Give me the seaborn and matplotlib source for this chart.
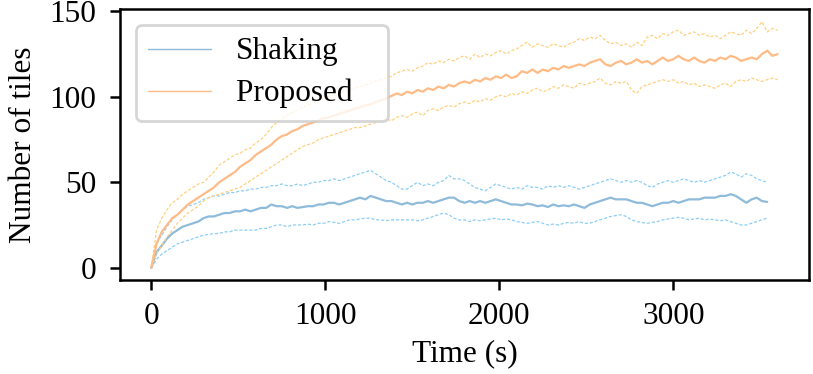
import numpy as np
import pandas as pd
import matplotlib
matplotlib.use('Agg')
import matplotlib.pyplot as plt
import seaborn as sns

# Data (number of tiles, sampled every 30 s)

shaking_mean = [
    0, 9, 13, 17, 20, 22, 24, 25, 26, 27,
    29, 30, 30, 31, 32, 32, 33, 33, 34, 33,
    34, 35, 35, 37, 36, 36, 35, 36, 35, 35.5,
    36, 36, 37, 37, 38, 38, 37, 38, 39, 40,
    41, 40, 42, 41, 40, 39, 39, 38, 37, 38,
    37, 38, 38, 39, 38, 39, 40, 41, 41, 39,
    38, 39, 38, 39, 38, 39, 40, 39, 38, 37,
    37, 36.5, 37.5, 37, 36, 36.5, 35.5, 37, 36, 36.5,
    36, 37, 36, 35, 37, 38, 39, 40, 41, 40,
    40, 40, 39, 38, 38, 37, 36, 37, 38, 38,
    39, 38, 39, 40, 40, 40, 41, 41, 41, 42,
    42, 43, 42, 40, 38, 40, 41, 39, 38.5]

shaking_upper = [
    0, 14, 19, 24, 28, 31, 34, 36, 37, 38,
    40, 41, 42, 42, 43, 44, 44, 45, 45, 46,
    46, 47, 47, 48, 48, 49, 48, 48, 49, 48,
    49, 50, 50, 51, 51, 52, 51, 52, 53, 54,
    55, 56, 57, 55, 53, 51, 50, 48, 46, 46,
    48, 50, 48, 49, 48, 50, 51, 54, 52, 52,
    51, 49, 47, 46, 45, 47, 49, 48, 47, 46,
    47, 46, 48, 47, 47, 46, 48, 47, 48, 47,
    48, 47, 46, 47, 48, 49, 50, 51, 52, 51,
    50, 51, 50, 51, 50, 48, 47, 49, 50, 51,
    50, 51, 52, 51, 50, 51, 50, 51, 52, 53,
    54, 56, 55, 53, 55, 54, 52, 51, 50]

shaking_lower = [
    0, 5, 8, 10, 12, 14, 15, 16, 17, 18,
    19, 19.5, 20, 20, 21, 21, 22, 22, 22, 22,
    22, 23, 23, 24, 25, 25, 24, 25, 25, 25,
    25.5, 25, 26, 26, 27, 26.5, 26, 27, 28, 28,
    28.5, 29, 29, 28, 28, 27.5, 28, 28, 28, 28,
    28, 27.5, 28, 29, 30, 31, 32, 31, 29, 28,
    28, 27, 28, 27.5, 28, 28.5, 29, 28, 28.5, 28,
    27, 26.5, 26, 26.5, 27, 26, 25, 25.5, 25, 26,
    26.5, 26, 27, 26, 26, 27, 28, 29, 30, 30.5,
    31, 30, 28, 27, 26.5, 26, 26.5, 27, 28, 28.5,
    29, 29.5, 29, 28, 28.5, 29, 28, 28.5, 28, 27.5,
    28, 27, 26, 25, 25, 26, 27, 28, 29]

proposed_mean = [
    0, 14, 21, 25, 29, 31, 34, 37, 39, 41,
    43, 45, 47, 50, 52, 54, 56, 59, 61, 63,
    66, 68, 70, 72, 75, 77, 78, 80, 81, 83,
    84, 85, 86, 87.5, 88, 89, 90, 91, 92, 93,
    94, 95, 95.5, 97, 98, 99, 100.5, 102, 101, 103,
    102, 104, 103, 105, 104, 106, 105, 107, 106, 108,
    109, 108, 110, 109, 111, 110, 112, 111, 113, 111,
    112, 115, 114, 116, 114, 116, 115, 117, 116, 118,
    117, 118, 119, 118, 120, 121, 122, 119, 118, 120,
    121, 119, 120, 122, 120, 121, 119, 121, 123, 121,
    122, 124, 122, 121, 123, 121, 120, 122, 121, 123,
    122, 124, 123, 121, 122, 123, 122, 125, 127, 124,
    125]

proposed_upper = [
    0, 22, 29, 34, 38, 40, 43, 45, 47, 49,
    50, 53, 56, 60, 62, 64, 66, 67, 69, 70,
    73, 75, 78, 82, 85, 87, 89, 91, 92, 94,
    95, 97, 98, 99, 100, 101, 102, 103, 104, 105,
    106, 107, 108, 109, 110, 111, 112, 114, 115, 116,
    115, 117, 118, 120, 119, 121, 120, 122, 121, 123,
    124, 122, 125, 123, 125, 124, 126, 127, 125, 127,
    128, 130, 132, 129, 131, 130, 129, 131, 130, 129,
    131, 132, 134, 133, 135, 134, 136, 133, 131, 132,
    130, 131, 129, 132, 130, 135, 136, 134, 137, 136,
    138, 139, 136, 137, 138, 136, 137, 135, 136, 134,
    136, 138, 137, 136, 139, 137, 140, 144, 138, 140,
    139]

proposed_lower = [
    0, 8, 13, 18, 22, 26, 29, 32, 34, 36,
    39, 41, 42, 43, 44, 45, 46, 47, 49, 51,
    53, 55, 57, 59, 61, 63, 65, 67, 69, 71,
    72, 73, 75, 76, 77, 78, 79, 80, 81, 82,
    82, 83, 84, 85, 86, 87, 86, 88, 89, 88,
    90, 91, 89, 92, 93, 92, 94, 95, 94, 96,
    97, 96, 98, 97, 99, 98, 100, 101, 100, 102,
    101, 103, 102, 104, 105, 103, 104, 106, 105, 107,
    106, 105, 108, 107, 108, 109, 111, 108, 107, 109,
    108, 109, 104, 102, 106, 107, 108, 109, 110, 109,
    110, 108, 109, 107, 108, 106, 107, 106, 105, 107,
    108, 106, 109, 110, 109, 111, 110, 109, 110, 111,
    110]

shaking_time = np.arange(0, 30 * len(shaking_mean), 30)
proposed_time = np.arange(0, 30 * len(proposed_mean), 30)

shaking = pd.DataFrame({'time': shaking_time, 'mean': shaking_mean,
                        'upper': shaking_upper, 'lower': shaking_lower})
proposed = pd.DataFrame({'time': proposed_time, 'mean': proposed_mean,
                         'upper': proposed_upper, 'lower': proposed_lower})

# Style

sns.set_style('ticks')
plt.rcParams['font.family'] = ['Liberation Serif', 'DejaVu Serif']
plt.rcParams['text.color'] = 'black'
plt.rcParams['axes.labelcolor'] = 'black'
plt.rcParams['xtick.color'] = 'black'
plt.rcParams['ytick.color'] = 'black'

fs = 22.5

fig = plt.figure(figsize=(8.13, 3.74), dpi=100)
ax = fig.add_axes([0.1476, 0.2513, 0.8474, 0.7237])

# Shaking

sns.lineplot(data=shaking, x='time', y='upper', ax=ax, color='#8ccef7',
             lw=0.9, ls=(0, (2.5, 1.5)))
sns.lineplot(data=shaking, x='time', y='lower', ax=ax, color='#8ccef7',
             lw=0.9, ls=(0, (2.5, 1.5)))
sns.lineplot(data=shaking, x='time', y='mean', ax=ax, color='#8fbbdb',
             lw=1.6, label='Shaking')

# Proposed

sns.lineplot(data=proposed, x='time', y='upper', ax=ax, color='#ffd07f',
             lw=0.9, ls=(0, (2.5, 1.5)))
sns.lineplot(data=proposed, x='time', y='lower', ax=ax, color='#ffd07f',
             lw=0.9, ls=(0, (2.5, 1.5)))
sns.lineplot(data=proposed, x='time', y='mean', ax=ax, color='#ffbb86',
             lw=1.6, label='Proposed   ')

# Axes

ax.set_xticks([0, 1000, 2000, 3000])
ax.set_yticks([0, 50, 100, 150])
ax.set_xlabel('Time (s)', fontsize=fs, labelpad=6)
ax.set_ylabel('Number of tiles', fontsize=fs, labelpad=8)
ax.tick_params(axis='both', labelsize=fs, length=7, width=1.8,
               colors='black')
ax.tick_params(axis='x', pad=9)
ax.tick_params(axis='y', pad=10)
for side in ['top', 'right', 'bottom', 'left']:
    ax.spines[side].set_visible(True)
    ax.spines[side].set_linewidth(1.8)
    ax.spines[side].set_color('black')

leg = ax.legend(loc='upper left', fontsize=fs, frameon=True, fancybox=True,
                framealpha=0.8, edgecolor='#cccccc', handlelength=2.0,
                labelspacing=0.4)
leg.get_frame().set_linewidth(2.0)
for line in leg.get_lines():
    line.set_linewidth(1.0)

plt.savefig('out.png', dpi=100)
